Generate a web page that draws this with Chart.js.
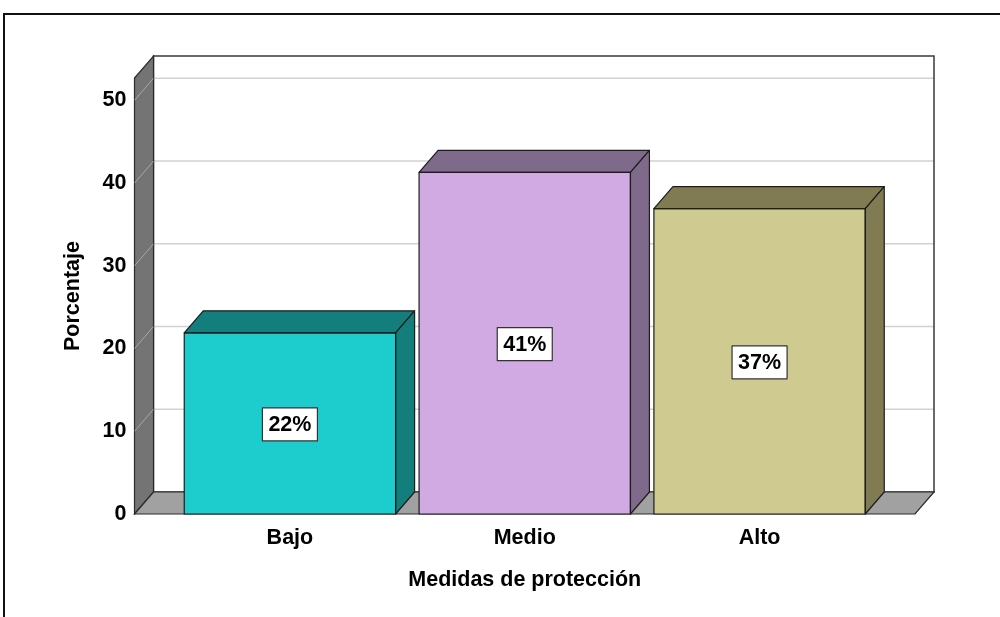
<!DOCTYPE html>
<html>
<head>
<meta charset="utf-8">
<script src="https://cdn.jsdelivr.net/npm/chart.js@4/dist/chart.umd.min.js"></script>
<style>
html,body{margin:0;padding:0;background:#fff;}
#wrap{width:1000px;height:617px;position:relative;}
</style>
</head>
<body>
<div id="wrap"><canvas id="c" width="1000" height="617"></canvas></div>
<script>
const categories = ['Bajo', 'Medio', 'Alto'];
const percentages = [21.9, 41.3, 36.9];
const valueLabels = ['22%', '41%', '37%'];
const yTickValues = [0, 10, 20, 30, 40, 50];
const yAxisMax = 52.7;
const frontColors = ['#1dcdcd', '#d1aae4', '#cfca8f'];
const shadeColors = ['#137e7b', '#7f6a8b', '#807b53'];
const xTitle = 'Medidas de protección';
const yTitle = 'Porcentaje';

const FONT_FAMILY = '"Liberation Sans", Arial, Helvetica, sans-serif';
const FONT_SIZE = 21.5;
const DX = 19, DY = 22;

const scene3d = {
  id: 'scene3d',
  beforeDraw(chart) {
    const ctx = chart.ctx;
    const a = chart.chartArea;
    const wallX = a.left - 38;
    const backRight = a.right + 57;
    const yScale = chart.scales.y;
    ctx.save();
    // outer frame
    ctx.strokeStyle = '#111';
    ctx.lineWidth = 2;
    ctx.beginPath();
    ctx.moveTo(4, 617);
    ctx.lineTo(4, 14);
    ctx.lineTo(1000, 14);
    ctx.stroke();

    // back wall
    ctx.fillStyle = '#ffffff';
    ctx.fillRect(wallX + DX, a.top - DY, backRight - wallX - DX, a.bottom - a.top);
    // gridlines
    ctx.lineWidth = 1.5;
    yTickValues.forEach(v => {
      if (v === 0) return;
      const yf = yScale.getPixelForValue(v);
      ctx.strokeStyle = '#d2d2d2';
      ctx.beginPath();
      ctx.moveTo(wallX + DX, yf - DY);
      ctx.lineTo(backRight, yf - DY);
      ctx.stroke();
    });
    // back wall border
    ctx.strokeStyle = '#3a3a3a';
    ctx.lineWidth = 1.5;
    ctx.strokeRect(wallX + DX, a.top - DY, backRight - wallX - DX, a.bottom - a.top);

    // left wall
    ctx.fillStyle = '#747474';
    ctx.beginPath();
    ctx.moveTo(wallX, a.bottom);
    ctx.lineTo(wallX, a.top);
    ctx.lineTo(wallX + DX, a.top - DY);
    ctx.lineTo(wallX + DX, a.bottom - DY);
    ctx.closePath();
    ctx.fill();
    ctx.strokeStyle = '#2a2a2a';
    ctx.lineWidth = 1.2;
    ctx.stroke();
    // gridlines on left wall
    yTickValues.forEach(v => {
      if (v === 0) return;
      const yf = yScale.getPixelForValue(v);
      ctx.strokeStyle = '#a8a8a8';
      ctx.lineWidth = 1;
      ctx.beginPath();
      ctx.moveTo(wallX, yf);
      ctx.lineTo(wallX + DX, yf - DY);
      ctx.stroke();
    });

    // floor
    ctx.fillStyle = '#a1a1a1';
    ctx.beginPath();
    ctx.moveTo(wallX, a.bottom);
    ctx.lineTo(backRight - DX, a.bottom);
    ctx.lineTo(backRight, a.bottom - DY);
    ctx.lineTo(wallX + DX, a.bottom - DY);
    ctx.closePath();
    ctx.fill();
    ctx.strokeStyle = '#2a2a2a';
    ctx.lineWidth = 1.2;
    ctx.stroke();
    ctx.restore();
  },
  afterDatasetsDraw(chart) {
    const ctx = chart.ctx;
    const meta = chart.getDatasetMeta(0);
    ctx.save();
    meta.data.forEach((bar, i) => {
      const p = bar.getProps(['x', 'y', 'base', 'width'], true);
      const l = p.x - p.width / 2, r = p.x + p.width / 2;
      const top = p.y, base = p.base;
      ctx.fillStyle = shadeColors[i];
      ctx.strokeStyle = '#1c1c1c';
      ctx.lineWidth = 1.2;
      ctx.lineJoin = 'round';
      // top face
      ctx.beginPath();
      ctx.moveTo(l, top);
      ctx.lineTo(l + DX, top - DY);
      ctx.lineTo(r + DX, top - DY);
      ctx.lineTo(r, top);
      ctx.closePath();
      ctx.fill();
      ctx.stroke();
      // side face
      ctx.beginPath();
      ctx.moveTo(r, top);
      ctx.lineTo(r + DX, top - DY);
      ctx.lineTo(r + DX, base - DY);
      ctx.lineTo(r, base);
      ctx.closePath();
      ctx.fill();
      ctx.stroke();
      // front outline
      ctx.strokeRect(l, top, r - l, base - top);

      // value label
      ctx.font = 'bold ' + FONT_SIZE + 'px ' + FONT_FAMILY;
      const txt = valueLabels[i];
      const tw = ctx.measureText(txt).width;
      const bw = tw + 12, bh = 33;
      const cy = (top + base) / 2 + 1;
      const bx = p.x - bw / 2, by = cy - bh / 2;
      ctx.fillStyle = '#ffffff';
      ctx.fillRect(bx, by, bw, bh);
      ctx.strokeStyle = '#333';
      ctx.lineWidth = 1.2;
      ctx.strokeRect(bx, by, bw, bh);
      ctx.fillStyle = '#000';
      ctx.textAlign = 'center';
      ctx.textBaseline = 'middle';
      ctx.fillText(txt, p.x, cy + 1);
    });
    ctx.restore();
  }
};

new Chart(document.getElementById('c'), {
  type: 'bar',
  data: {
    labels: categories,
    datasets: [{
      data: percentages,
      backgroundColor: frontColors,
      borderColor: '#1c1c1c',
      borderWidth: 0,
      barPercentage: 0.9,
      categoryPercentage: 1.0
    }]
  },
  options: {
    responsive: false,
    animation: false,
    devicePixelRatio: 1,
    layout: { padding: { left: 0, right: 123, top: 78, bottom: 0 } },
    plugins: { legend: { display: false }, tooltip: { enabled: false } },
    scales: {
      x: {
        grid: { display: false },
        border: { display: false },
        ticks: { color: '#000', font: { family: FONT_FAMILY, size: FONT_SIZE, weight: 'bold' }, padding: 3, maxRotation: 0 },
        title: { display: true, text: xTitle, color: '#000', font: { family: FONT_FAMILY, size: FONT_SIZE, weight: 'bold' }, padding: { top: 24, bottom: 24 } },
        afterFit(scale) { scale.height = 103; }
      },
      y: {
        min: 0,
        max: yAxisMax,
        grid: { display: false },
        border: { display: false },
        afterBuildTicks(scale) { scale.ticks = yTickValues.map(v => ({ value: v })); },
        ticks: { color: '#000', font: { family: FONT_FAMILY, size: FONT_SIZE, weight: 'bold' }, padding: 38 },
        title: { display: true, text: yTitle, color: '#000', font: { family: FONT_FAMILY, size: FONT_SIZE, weight: 'bold' }, padding: { top: 60, bottom: 60 } },
        afterFit(scale) { scale.width = 172.5; }
      }
    }
  },
  plugins: [scene3d]
});
</script>
</body>
</html>
